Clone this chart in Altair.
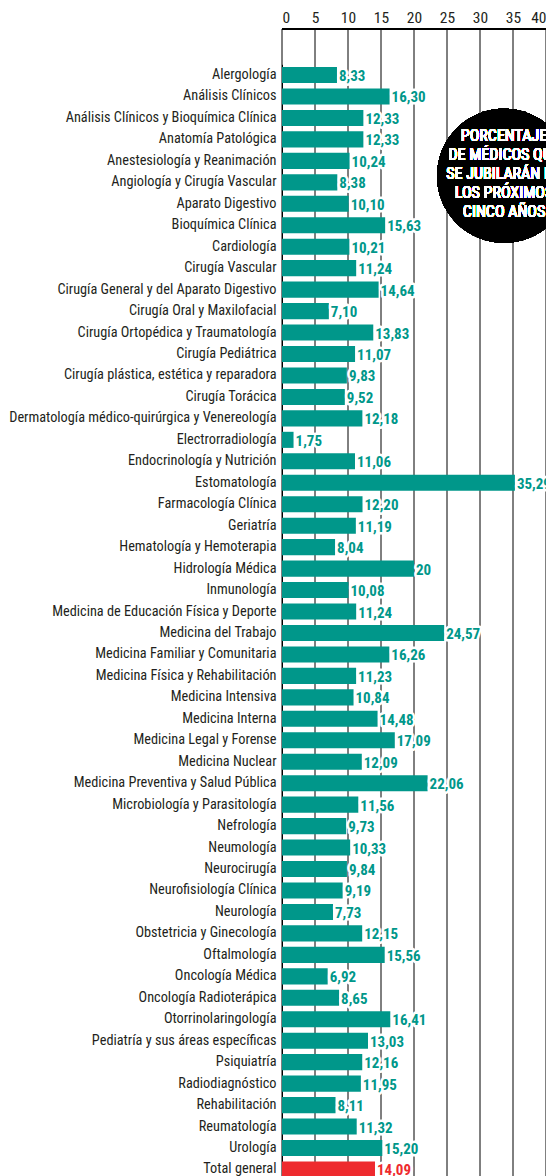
import altair as alt
import pandas as pd

categories = [
    "Alergología", "Análisis Clínicos", "Análisis Clínicos y Bioquímica Clínica",
    "Anatomía Patológica", "Anestesiología y Reanimación", "Angiología y Cirugía Vascular",
    "Aparato Digestivo", "Bioquímica Clínica", "Cardiología", "Cirugía Vascular",
    "Cirugía General y del Aparato Digestivo", "Cirugía Oral y Maxilofacial",
    "Cirugía Ortopédica y Traumatología", "Cirugía Pediátrica",
    "Cirugía plástica, estética y reparadora", "Cirugía Torácica",
    "Dermatología médico-quirúrgica y Venereología", "Electrorradiología",
    "Endocrinología y Nutrición", "Estomatología", "Farmacología Clínica", "Geriatría",
    "Hematología y Hemoterapia", "Hidrología Médica", "Inmunología",
    "Medicina de Educación Física y Deporte", "Medicina del Trabajo",
    "Medicina Familiar y Comunitaria", "Medicina Física y Rehabilitación",
    "Medicina Intensiva", "Medicina Interna", "Medicina Legal y Forense",
    "Medicina Nuclear", "Medicina Preventiva y Salud Pública",
    "Microbiología y Parasitología", "Nefrología", "Neumología", "Neurocirugía",
    "Neurofisiología Clínica", "Neurología", "Obstetricia y Ginecología", "Oftalmología",
    "Oncología Médica", "Oncología Radioterápica", "Otorrinolaringología",
    "Pediatría y sus áreas específicas", "Psiquiatría", "Radiodiagnóstico",
    "Rehabilitación", "Reumatología", "Urología", "Total general",
]
values = [
    8.33, 16.30, 12.33, 12.33, 10.24, 8.38, 10.10, 15.63, 10.21, 11.24,
    14.64, 7.10, 13.83, 11.07, 9.83, 9.52, 12.18, 1.75, 11.06, 35.29,
    12.20, 11.19, 8.04, 20, 10.08, 11.24, 24.57, 16.26, 11.23, 10.84,
    14.48, 17.09, 12.09, 22.06, 11.56, 9.73, 10.33, 9.84, 9.19, 7.73,
    12.15, 15.56, 6.92, 8.65, 16.41, 13.03, 12.16, 11.95, 8.11, 11.32,
    15.20, 14.09,
]
tick_values = [0, 5, 10, 15, 20, 25, 30, 35, 40]
circle_text = "PORCENTAJE\nDE MÉDICOS QUE\nSE JUBILARÁN EN\nLOS PRÓXIMOS\nCINCO AÑOS"


def fmt(v):
    return str(int(v)) if float(v).is_integer() else f"{v:.2f}".replace(".", ",")


df = pd.DataFrame({
    "cat": categories,
    "val": values,
    "label": [fmt(v) for v in values],
    "kind": ["total" if c == "Total general" else "esp" for c in categories],
})
ticks_df = pd.DataFrame({"t": tick_values})

FONT = "Liberation Sans Narrow, Arial Narrow, Roboto Condensed, Liberation Sans, sans-serif"
TEAL = "#00978a"
RED = "#ee2a2e"

x_scale = alt.Scale(domain=[0, 40], nice=False, zero=True)
y_scale = alt.Scale(range=[35.3, 1151.2], paddingInner=0.25, paddingOuter=0.125)

y_axis = alt.Axis(title=None, ticks=False, labelPadding=6, labelFontSize=14.3,
                  labelFont=FONT, labelColor="#231f20", domainColor="black",
                  domainWidth=1, labelLimit=400)
x_axis = alt.Axis(orient="top", values=tick_values, grid=False, ticks=False,
                  tickSize=0, domain=False, labelOverlap=False, labelPadding=4,
                  labelFontSize=15.5, labelFont=FONT, labelColor="#231f20", title=None)

y_enc = alt.Y("cat:N", sort=categories, scale=y_scale, axis=y_axis)
x_enc = alt.X("val:Q", scale=x_scale, axis=x_axis)
color_enc = alt.Color("kind:N", scale=alt.Scale(domain=["esp", "total"], range=[TEAL, RED]),
                      legend=None)

# vertical grid lines drawn from the tick values
grid = alt.Chart(ticks_df).mark_rule(color="black", strokeWidth=1).encode(
    x=alt.X("t:Q", scale=x_scale, axis=x_axis), y=alt.value(0), y2=alt.value(1147))

base = alt.Chart(df)
bars = base.mark_bar().encode(x=x_enc, y=y_enc, color=color_enc)
label_props = dict(align="left", baseline="middle", dx=2, dy=1, fontWeight="bold",
                   fontSize=15, font=FONT)
halo = base.mark_text(stroke="white", strokeWidth=5, strokeJoin="round", fill="white",
                      **label_props).encode(x=x_enc, y=y_enc, text="label:N")
labels = base.mark_text(**label_props).encode(
    x=x_enc, y=y_enc, text="label:N", color=color_enc)

top_rule = alt.Chart(ticks_df).mark_rule(color="black", strokeWidth=1).encode(
    x=alt.XDatum(0, axis=x_axis), x2=alt.X2Datum(40), y=alt.value(0))

circle = alt.Chart(df).mark_circle(size=17956, color="black", opacity=1).encode(
    x=alt.XDatum(33.64, axis=x_axis),
    y=alt.YDatum("Anestesiología y Reanimación", axis=y_axis),
    yOffset=alt.value(23))
ctext = alt.Chart(df).mark_text(
    align="center", baseline="middle", lineBreak="\n", lineHeight=19, fontSize=16,
    font=FONT, color="white", dy=-25).encode(
    x=alt.XDatum(33.64, axis=x_axis),
    y=alt.YDatum("Anestesiología y Reanimación", axis=y_axis),
    text=alt.value(circle_text))

chart = alt.layer(grid, bars, halo, labels, top_rule, circle, ctext).properties(
    width=264, height=1147,
    autosize=alt.AutoSizeParams(type="none"),
    padding={"left": 274, "top": 21, "right": 0, "bottom": 0},
    background="white",
).configure_view(stroke=None)

chart.save("out.html", embed_options={"renderer": "svg", "actions": False})
